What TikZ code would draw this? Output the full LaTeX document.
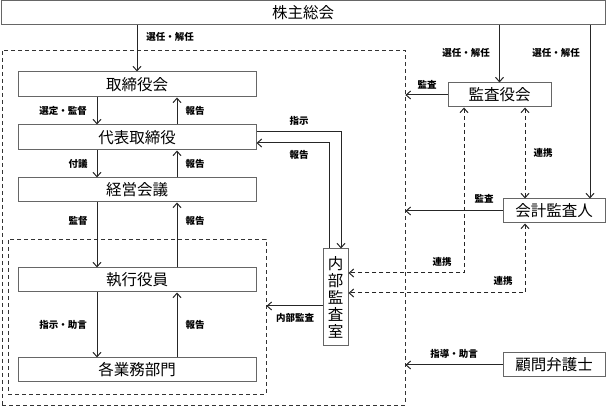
\documentclass[tikz,border=0pt]{standalone}
\usepackage{fontspec}
\newfontfamily\jp{Noto Sans CJK JP}
\usetikzlibrary{arrows.meta}
\begin{document}
\begin{tikzpicture}[x=1pt,y=-1pt,
  box/.style={draw=black!60,line width=1pt,fill=white,rectangle,inner sep=0pt,font=\jp\fontsize{15.5}{17}\selectfont},
  dbox/.style={draw=black!80,line width=0.8pt,dash pattern=on 4pt off 3pt,rectangle,inner sep=0pt},
  lbl/.style={font=\jp\bfseries\fontsize{9.5}{10}\selectfont,inner sep=0pt},
  arr/.style={draw=black!85,line width=1pt,-{Straight Barb[length=4.5pt,width=8pt,line width=1pt]}},
  darr/.style={draw=black!85,line width=1pt,dash pattern=on 4pt off 3pt,{Straight Barb[length=4.5pt,width=8pt,line width=1pt]}-{Straight Barb[length=4.5pt,width=8pt,line width=1pt]}}
]
\useasboundingbox (0,0) rectangle (606,406);
% dashed group boxes
\node[dbox,minimum width=403pt,minimum height=355pt] (outer) at (203.5,227.5) {};
\node[dbox,minimum width=258pt,minimum height=155pt] (inner) at (137,316.5) {};
% boxes
\node[box,minimum width=604pt,minimum height=24pt] (kabu) at (303,13) {株主総会};
\node[box,minimum width=238pt,minimum height=25pt] (tori) at (137,84.5) {取締役会};
\node[box,minimum width=238pt,minimum height=25pt] (daihyo) at (137,137.5) {代表取締役};
\node[box,minimum width=238pt,minimum height=24pt] (keiei) at (137,190) {経営会議};
\node[box,minimum width=238pt,minimum height=24pt] (shikko) at (137,280) {執行役員};
\node[box,minimum width=238pt,minimum height=24pt] (kaku) at (137,370) {各業務部門};
\node[box,minimum width=25pt,minimum height=97pt,align=center] (naibu) at (335.5,297.5) {内\\部\\監\\査\\室};
\node[box,minimum width=103pt,minimum height=24pt] (kansa) at (499.5,95) {監査役会};
\node[box,minimum width=102pt,minimum height=24pt] (kaikei) at (554,211) {会計監査人};
\node[box,minimum width=102pt,minimum height=24pt] (komon) at (554,365) {顧問弁護士};
% vertical arrows left column
\draw[arr] (tori.north |- kabu.south) -- (tori.north);
\draw[arr] ([xshift=-40pt]tori.south) -- ([xshift=-40pt]daihyo.north);
\draw[arr] ([xshift=40pt]daihyo.north) -- ([xshift=40pt]tori.south);
\draw[arr] ([xshift=-40pt]daihyo.south) -- ([xshift=-40pt]keiei.north);
\draw[arr] ([xshift=40pt]keiei.north) -- ([xshift=40pt]daihyo.south);
\draw[arr] ([xshift=-40pt]keiei.south) -- ([xshift=-40pt]shikko.north);
\draw[arr] ([xshift=40pt]shikko.north) -- ([xshift=40pt]keiei.south);
\draw[arr] ([xshift=-40pt]shikko.south) -- ([xshift=-40pt]kaku.north);
\draw[arr] ([xshift=40pt]kaku.north) -- ([xshift=40pt]shikko.south);
% internal audit
\draw[arr] ([yshift=5.5pt]daihyo.east) -| ([xshift=5.5pt]naibu.north);
\draw[arr] ([xshift=-6.5pt]naibu.north) |- ([yshift=-5.5pt]daihyo.east);
\path ([yshift=-8.5pt]naibu.west) coordinate (ia);
\draw[arr] (ia) -- (inner.east |- ia);
% right side
\draw[arr] (kansa.north |- kabu.south) -- (kansa.north);
\draw[arr] ([xshift=36pt]kaikei.north |- kabu.south) -- ([xshift=36pt]kaikei.north);
\draw[arr] (kansa.west) -- (outer.east |- kansa.west);
\draw[arr] (kaikei.west) -- (outer.east |- kaikei.west);
\draw[arr] (komon.west) -- (outer.east |- komon.west);
\draw[darr] ([xshift=25.5pt]kansa.south) -- ([xshift=-29pt]kaikei.north);
\draw[darr] ([xshift=-35.5pt]kansa.south) |- ([yshift=24.5pt]naibu.east);
\draw[darr] ([xshift=-29pt]kaikei.south) |- ([yshift=4.5pt]naibu.east);
% labels
\node[lbl] (l1) at (170,37) {選任・解任};
\node[lbl] (l2) at (63,111) {選定・監督};
\node[lbl] (l3) at (195,111) {報告};
\node[lbl] (l4) at (78,164) {付議};
\node[lbl] (l5) at (195,164) {報告};
\node[lbl] (l6) at (78,221) {監督};
\node[lbl] (l7) at (195,221) {報告};
\node[lbl] (l8) at (63,325) {指示・助言};
\node[lbl] (l9) at (195,325) {報告};
\node[lbl] (l10) at (299,121) {指示};
\node[lbl] (l11) at (299,155) {報告};
\node[lbl] (l12) at (295,318) {内部監査};
\node[lbl] (l13) at (466,53) {選任・解任};
\node[lbl] (l14) at (556,53) {選任・解任};
\node[lbl] (l15) at (427,85) {監査};
\node[lbl] (l16) at (484,199) {監査};
\node[lbl] (l17) at (543,153) {連携};
\node[lbl] (l18) at (442,262) {連携};
\node[lbl] (l19) at (503,281) {連携};
\node[lbl] (l20) at (454,354) {指導・助言};
\end{tikzpicture}
\end{document}
